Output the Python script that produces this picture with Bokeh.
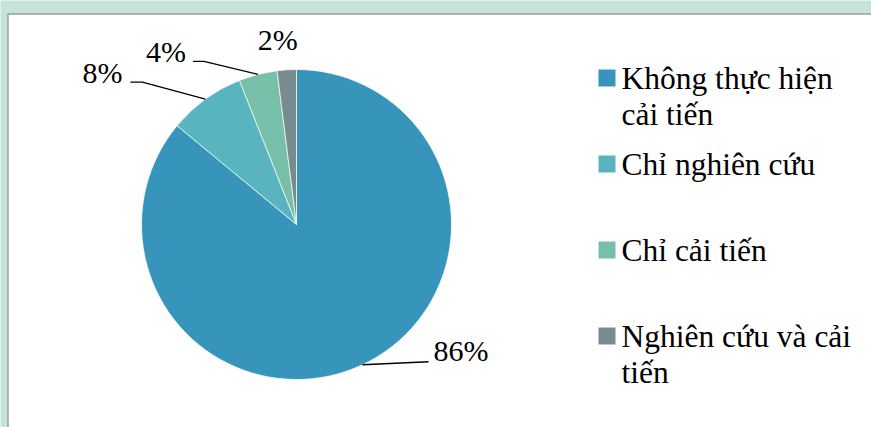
import numpy as np
from bokeh.plotting import figure
from bokeh.models import Range1d, ColumnDataSource
from bokeh.core.properties import value
from bokeh.embed import file_html
from bokeh.resources import INLINE

# ---- data ----
categories = ["Không thực hiện cải tiến", "Chỉ nghiên cứu", "Chỉ cải tiến", "Nghiên cứu và cải tiến"]
legend_lines = [["Không thực hiện", "cải tiến"], ["Chỉ nghiên cứu"], ["Chỉ cải tiến"], ["Nghiên cứu và cải", "tiến"]]
values = [86, 8, 4, 2]
pct_labels = ["86%", "8%", "4%", "2%"]
colors = ["#3795bb", "#58b5bf", "#77bfa8", "#788b8e"]

# ---- layout (pixels) ----
W, H = 871, 427
FONT = value("Times New Roman")
FS = "30px"
FS_LEG = "31.5px"
BASE_FIX = 11  # renderer places the baseline lower than requested


def sy(y):
    return H - y


cx, cy, R = 296, sy(224), 155

# label layout relative to slice-edge midpoint (screen dx, dy)
leader_offsets = [[(0, 0), (66, -3)], [(0, 0), (-63, -17), (-75, -17)], [(0, 0), (-54, -13), (-65, -13)], []]
text_offsets = [(71, -3, "left"), (-83, -16, "right"), (-72, -12, "right"), (-9, -19, "center")]

p = figure(width=W, height=H, output_backend="svg", toolbar_location=None,
           x_range=Range1d(0, W), y_range=Range1d(0, H), min_border=0)
p.axis.visible = False
p.grid.visible = False
p.outline_line_color = None
p.background_fill_color = "#c7e4da"
p.border_fill_color = "#c7e4da"

# white panel
p.quad(left=[7.5], right=[W + 20], top=[sy(13.5)], bottom=[-20], fill_color="white",
       line_color="#9c9c9c", line_width=1.5)

total = float(sum(values))
cum = np.concatenate([[0.0], np.cumsum(values)]) / total
start = np.deg2rad(90 - cum[1:] * 360)
end = np.deg2rad(90 - cum[:-1] * 360)
src = ColumnDataSource(dict(start=start, end=end, color=colors, cat=categories))
p.wedge(x=cx, y=cy, radius=R, start_angle="start", end_angle="end",
        direction="anticlock", fill_color="color", line_color="white", line_width=0.7, source=src)

mids = (start + end) / 2
for i, lab in enumerate(pct_labels):
    ex = cx + R * np.cos(mids[i])
    ey = cy + R * np.sin(mids[i])
    pts = leader_offsets[i]
    if pts:
        p.line([ex + dx for dx, dy in pts], [ey - dy for dx, dy in pts], line_color="black", line_width=1.3)
    tdx, tdy, al = text_offsets[i]
    p.text(x=[ex + tdx], y=[ey - tdy + BASE_FIX], text=[lab], text_font=FONT, text_font_size=FS,
           text_align=al, text_baseline="alphabetic", text_color="black")

# legend
leg_x0, leg_sq, leg_y0, leg_step, txt_x, line_h = 598, 17, 77.5, 86, 621, 36
for i, lines in enumerate(legend_lines):
    yc = leg_y0 + i * leg_step
    p.quad(left=[leg_x0], right=[leg_x0 + leg_sq], top=[sy(yc - leg_sq / 2)], bottom=[sy(yc + leg_sq / 2)],
           fill_color=colors[i], line_color=None)
    for j, t in enumerate(lines):
        p.text(x=[txt_x], y=[sy(yc + 11.5 + j * line_h) + BASE_FIX + 0.5], text=[t], text_font=FONT,
               text_font_size=FS_LEG, text_align="left", text_baseline="alphabetic", text_color="black")

open("out.html", "w").write(file_html(p, INLINE))
